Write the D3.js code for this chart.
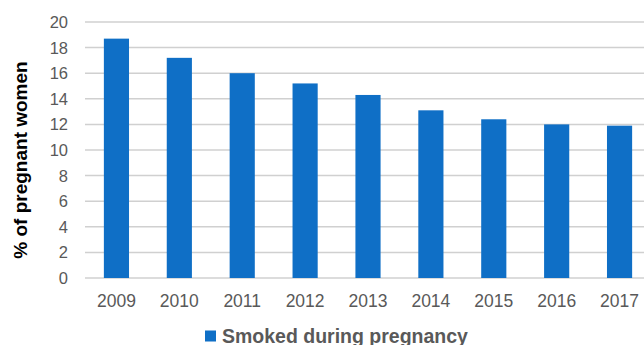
<!DOCTYPE html>
<html>
<head>
<meta charset="utf-8">
<script src="https://cdn.jsdelivr.net/npm/d3@7"></script>
<style>
  body { margin: 0; background: #fff; }
  svg { display: block; font-family: "Liberation Sans", Arial, sans-serif; }
</style>
</head>
<body>
<svg id="chart" width="644" height="345"></svg>
<script>
const years = ['2009', '2010', '2011', '2012', '2013', '2014', '2015', '2016', '2017']
const smoked = [18.7, 17.2, 16.0, 15.2, 14.3, 13.1, 12.4, 12.0, 11.9]
const yTicks = [0, 2, 4, 6, 8, 10, 12, 14, 16, 18, 20]

const svg = d3.select('#chart')

const x = d3.scaleBand().domain(years).range([85, 651]).paddingInner(0.6).paddingOuter(0.3)
const y = d3.scaleLinear().domain([0, 20]).range([278, 22])

// gridlines
svg.append('g').selectAll('line').data(yTicks).enter().append('line')
  .attr('x1', 85).attr('x2', 644)
  .attr('y1', d => y(d)).attr('y2', d => y(d))
  .attr('stroke', '#d0d0d0').attr('stroke-width', 1.5)

// y tick labels
svg.append('g').selectAll('text').data(yTicks).enter().append('text')
  .attr('x', 68).attr('y', d => y(d)).attr('dy', '0.36em')
  .attr('text-anchor', 'end')
  .attr('fill', '#595959').attr('font-size', '16.5px')
  .text(d => d)

// bars
svg.append('g').selectAll('rect').data(smoked).enter().append('rect')
  .attr('x', (d, i) => x(years[i]))
  .attr('width', x.bandwidth())
  .attr('y', d => y(d))
  .attr('height', d => y(0) - y(d))
  .attr('fill', '#0f6fc6')

// x labels
svg.append('g').selectAll('text').data(years).enter().append('text')
  .attr('x', d => x(d) + x.bandwidth() / 2).attr('y', 306.5)
  .attr('text-anchor', 'middle')
  .attr('fill', '#595959').attr('font-size', '17.5px')
  .text(d => d)

// y title
svg.append('text')
  .attr('transform', 'translate(27,160) rotate(-90)')
  .attr('text-anchor', 'middle')
  .attr('font-weight', 'bold').attr('font-size', '19px').attr('fill', '#000')
  .text('% of pregnant women')

// legend
svg.append('rect').attr('x', 205).attr('y', 330.5).attr('width', 11).attr('height', 11).attr('fill', '#0f6fc6')
svg.append('text')
  .attr('x', 222).attr('y', 342.5)
  .attr('font-weight', 'bold').attr('font-size', '19.5px').attr('fill', '#595959')
  .text('Smoked during pregnancy')
</script>
</body>
</html>
